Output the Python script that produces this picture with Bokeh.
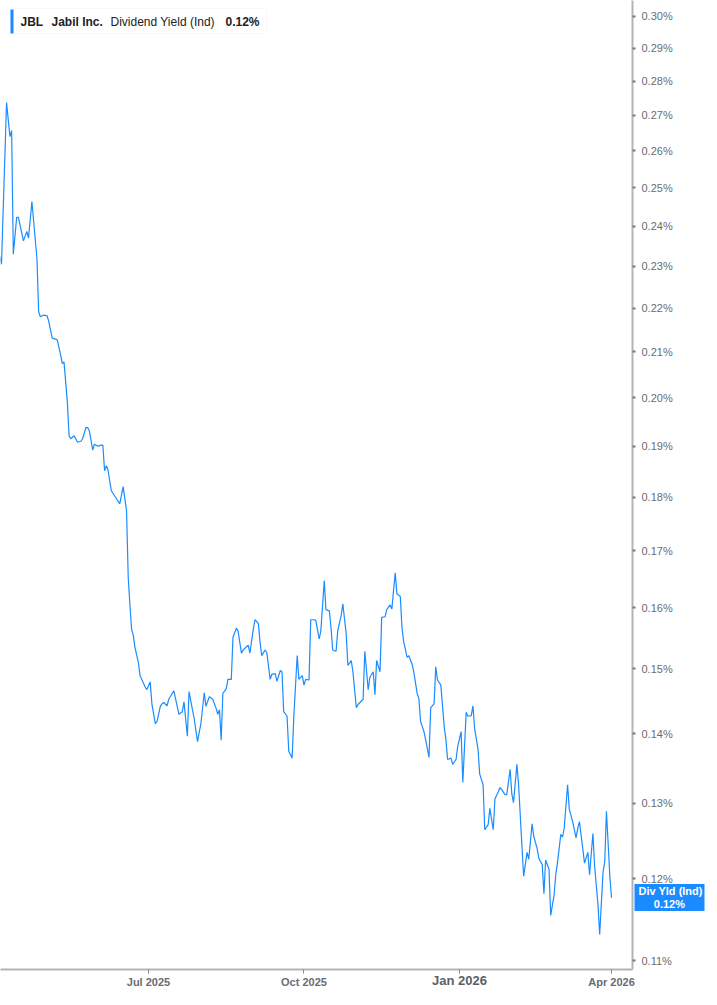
from datetime import datetime
import pandas as pd
from bokeh.plotting import figure
from bokeh.models import (ColumnDataSource, FixedTicker, CustomJSTickFormatter,
                          Range1d, Label, BoxAnnotation, LogAxis, DatetimeAxis)
from bokeh.embed import file_html
from bokeh.resources import INLINE

# ---------------- data ----------------
dates = [
    "2025-04-04", "2025-04-05", "2025-04-08", "2025-04-10", "2025-04-11", "2025-04-12", "2025-04-14", "2025-04-15",
    "2025-04-18", "2025-04-20", "2025-04-21", "2025-04-23", "2025-04-26", "2025-04-27", "2025-04-28", "2025-04-30",
    "2025-05-02", "2025-05-03", "2025-05-05", "2025-05-07", "2025-05-08", "2025-05-10", "2025-05-11", "2025-05-12",
    "2025-05-14", "2025-05-15", "2025-05-16", "2025-05-18", "2025-05-20", "2025-05-22", "2025-05-23", "2025-05-25",
    "2025-05-26", "2025-05-27", "2025-05-29", "2025-05-30",
    "2025-06-01", "2025-06-03", "2025-06-04", "2025-06-05", "2025-06-06", "2025-06-07", "2025-06-09", "2025-06-11",
    "2025-06-14", "2025-06-16", "2025-06-18", "2025-06-19", "2025-06-20", "2025-06-21", "2025-06-22", "2025-06-23",
    "2025-06-25", "2025-06-26", "2025-06-27", "2025-06-29", "2025-06-30",
    "2025-07-02", "2025-07-03", "2025-07-05", "2025-07-06", "2025-07-08", "2025-07-09", "2025-07-10", "2025-07-12",
    "2025-07-13", "2025-07-15", "2025-07-16", "2025-07-18", "2025-07-19", "2025-07-21", "2025-07-22", "2025-07-24",
    "2025-07-25", "2025-07-27", "2025-07-28", "2025-07-30",
    "2025-08-01", "2025-08-03", "2025-08-04", "2025-08-06", "2025-08-08", "2025-08-10", "2025-08-11", "2025-08-12",
    "2025-08-13", "2025-08-14", "2025-08-16", "2025-08-17", "2025-08-19", "2025-08-20", "2025-08-22", "2025-08-23",
    "2025-08-25", "2025-08-26", "2025-08-29", "2025-08-30",
    "2025-09-01", "2025-09-02", "2025-09-04", "2025-09-05", "2025-09-06", "2025-09-08", "2025-09-09", "2025-09-11",
    "2025-09-12", "2025-09-14", "2025-09-15", "2025-09-17", "2025-09-18", "2025-09-19", "2025-09-21", "2025-09-22",
    "2025-09-24", "2025-09-25", "2025-09-27", "2025-09-28", "2025-09-30",
    "2025-10-01", "2025-10-02", "2025-10-04", "2025-10-05", "2025-10-07", "2025-10-08", "2025-10-10", "2025-10-11",
    "2025-10-13", "2025-10-14", "2025-10-16", "2025-10-17", "2025-10-18", "2025-10-20", "2025-10-21", "2025-10-23",
    "2025-10-24", "2025-10-26", "2025-10-27", "2025-10-29", "2025-10-30",
    "2025-11-01", "2025-11-02", "2025-11-05", "2025-11-06", "2025-11-08", "2025-11-09", "2025-11-11", "2025-11-12",
    "2025-11-13", "2025-11-15", "2025-11-16", "2025-11-18", "2025-11-19", "2025-11-21", "2025-11-22", "2025-11-24",
    "2025-11-25", "2025-11-27", "2025-11-28", "2025-11-29",
    "2025-12-01", "2025-12-02", "2025-12-04", "2025-12-05", "2025-12-07", "2025-12-08", "2025-12-09", "2025-12-11",
    "2025-12-12", "2025-12-14", "2025-12-15", "2025-12-17", "2025-12-18", "2025-12-19", "2025-12-21", "2025-12-23",
    "2025-12-24", "2025-12-25", "2025-12-27", "2025-12-28", "2025-12-30", "2025-12-31",
    "2026-01-02", "2026-01-03", "2026-01-05", "2026-01-06", "2026-01-08", "2026-01-09", "2026-01-10", "2026-01-12",
    "2026-01-13", "2026-01-15", "2026-01-16", "2026-01-18", "2026-01-19", "2026-01-21", "2026-01-22", "2026-01-24",
    "2026-01-25", "2026-01-26", "2026-01-28", "2026-01-29", "2026-01-31",
    "2026-02-01", "2026-02-02", "2026-02-04", "2026-02-05", "2026-02-07", "2026-02-08", "2026-02-10", "2026-02-11",
    "2026-02-13", "2026-02-14", "2026-02-16", "2026-02-17", "2026-02-19", "2026-02-20", "2026-02-21", "2026-02-23",
    "2026-02-24", "2026-02-26", "2026-02-27", "2026-02-28",
    "2026-03-02", "2026-03-03", "2026-03-04", "2026-03-06", "2026-03-07", "2026-03-09", "2026-03-11", "2026-03-12",
    "2026-03-13", "2026-03-15", "2026-03-16", "2026-03-18", "2026-03-19", "2026-03-21", "2026-03-22", "2026-03-24",
    "2026-03-25", "2026-03-27", "2026-03-28", "2026-03-29", "2026-03-31", "2026-04-01",
]

dividend_yield = [  # percent
    0.2325, 0.2305, 0.2737, 0.2640, 0.2657, 0.2330, 0.2423, 0.2423,
    0.2363, 0.2387, 0.2370, 0.2464, 0.2318, 0.2191, 0.2180, 0.2184,
    0.2182, 0.2169, 0.2131, 0.2129, 0.2127, 0.2093, 0.2074, 0.2078,
    0.1990, 0.1921, 0.1915, 0.1921, 0.1908, 0.1910, 0.1915, 0.1938,
    0.1938, 0.1931, 0.1892, 0.1904,
    0.1900, 0.1902, 0.1902, 0.1851, 0.1861, 0.1853, 0.1812, 0.1802,
    0.1787, 0.1820, 0.1774, 0.1653, 0.1605, 0.1564, 0.1554, 0.1534,
    0.1510, 0.1489, 0.1483, 0.1471, 0.1467,
    0.1479, 0.1445, 0.1415, 0.1418, 0.1441, 0.1445, 0.1447, 0.1442,
    0.1452, 0.1461, 0.1465, 0.1441, 0.1429, 0.1433, 0.1448, 0.1396,
    0.1464, 0.1436, 0.1423, 0.1388,
    0.1415, 0.1462, 0.1441, 0.1456, 0.1452, 0.1438, 0.1429, 0.1436,
    0.1390, 0.1461, 0.1468, 0.1483, 0.1483, 0.1551, 0.1566, 0.1561,
    0.1525, 0.1530, 0.1538, 0.1525,
    0.1564, 0.1580, 0.1574, 0.1543, 0.1521, 0.1530, 0.1526, 0.1483,
    0.1491, 0.1492, 0.1480, 0.1497, 0.1495, 0.1433, 0.1426, 0.1374,
    0.1364, 0.1426, 0.1521, 0.1483, 0.1489,
    0.1474, 0.1483, 0.1482, 0.1580, 0.1580, 0.1579, 0.1548, 0.1562,
    0.1647, 0.1597, 0.1595, 0.1567, 0.1530, 0.1528, 0.1562, 0.1587,
    0.1607, 0.1556, 0.1505, 0.1513, 0.1494,
    0.1439, 0.1444, 0.1452, 0.1528, 0.1467, 0.1486, 0.1495, 0.1459,
    0.1513, 0.1495, 0.1584, 0.1585, 0.1597, 0.1605, 0.1598, 0.1661,
    0.1624, 0.1620, 0.1567, 0.1544,
    0.1518, 0.1521, 0.1507, 0.1494, 0.1461, 0.1453, 0.1418, 0.1403,
    0.1391, 0.1365, 0.1439, 0.1445, 0.1503, 0.1482, 0.1474, 0.1410,
    0.1391, 0.1362, 0.1364, 0.1355, 0.1362, 0.1381,
    0.1403, 0.1329, 0.1432, 0.1426, 0.1427, 0.1442, 0.1407, 0.1377,
    0.1341, 0.1326, 0.1264, 0.1271, 0.1293, 0.1264, 0.1306, 0.1316,
    0.1322, 0.1319, 0.1312, 0.1312, 0.1348,
    0.1313, 0.1301, 0.1355, 0.1326, 0.1242, 0.1203, 0.1234, 0.1225,
    0.1272, 0.1255, 0.1239, 0.1226, 0.1218, 0.1181, 0.1224, 0.1212,
    0.1154, 0.1179, 0.1205, 0.1220,
    0.1258, 0.1254, 0.1266, 0.1326, 0.1292, 0.1275, 0.1253, 0.1266,
    0.1275, 0.1239, 0.1220, 0.1234, 0.1205, 0.1259, 0.1216, 0.1167,
    0.1131, 0.1209, 0.1222, 0.1289, 0.1203, 0.1176,
]

y_ticks = [0.11, 0.12, 0.13, 0.14, 0.15, 0.16, 0.17, 0.18, 0.19, 0.20,
           0.21, 0.22, 0.23, 0.24, 0.25, 0.26, 0.27, 0.28, 0.29, 0.30]
x_tick_dates = ["2025-07-01", "2025-10-01", "2026-01-01", "2026-04-01"]
x_tick_labels = ["Jul 2025", "Oct 2025", "Jan 2026", "Apr 2026"]
bold_tick_label = "Jan 2026"

symbol = "JBL"
company = "Jabil Inc."
metric = "Dividend Yield (Ind)"
last_value_text = "0.12%"
badge_lines = ["Div Yld (Ind)", "0.12%"]

# ---------------- styling ----------------
BLUE = "#1a8cff"
AXIS_GREY = "#b4b4b4"
LABEL_GREY = "#696c72"
FONT = "Liberation Sans"

FW, FH = 632, 969
X_START, X_END = datetime(2025, 4, 4, 10), datetime(2026, 4, 13, 10)
Y_MIN, Y_MAX = 0.10896, 0.30507

def ms(d):
    return pd.Timestamp(d).value / 1e6

src = ColumnDataSource(dict(date=pd.to_datetime(dates), value=dividend_yield))

p = figure(frame_width=FW, frame_height=FH,
           x_axis_type="datetime", y_axis_type="log", y_axis_location="right",
           x_range=Range1d(X_START, X_END), y_range=Range1d(Y_MIN, Y_MAX),
           output_backend="svg", toolbar_location=None,
           min_border_left=0, min_border_top=0, min_border_right=69, min_border_bottom=20)

p.outline_line_color = None
p.xgrid.grid_line_color = None
p.ygrid.grid_line_color = None
p.background_fill_color = "white"
p.border_fill_color = "white"

p.line("date", "value", source=src, line_color=BLUE, line_width=1.2)

# ---- main x axis (Jan label drawn by a second, bold axis) ----
xa = p.xaxis[0]
tick_ms = [ms(d) for d in x_tick_dates]
xa.ticker = FixedTicker(ticks=tick_ms)
shown = ["" if t == bold_tick_label else t for t in x_tick_labels]
xa.formatter = CustomJSTickFormatter(args=dict(tvals=tick_ms, tlabels=shown), code="""
    let best = 0;
    for (let k = 0; k < tvals.length; k++) {
        if (Math.abs(tvals[k] - tick) < Math.abs(tvals[best] - tick)) best = k;
    }
    return tlabels[best];
""")
xa.major_tick_in = 0
xa.major_tick_out = 4
xa.major_tick_line_color = "#8a8a8a"
xa.major_label_standoff = 2
xa.major_label_text_font_style = "bold"

# ---- main y axis ----
ya = p.yaxis[0]
ya.ticker = FixedTicker(ticks=y_ticks)
ya.formatter = CustomJSTickFormatter(code="return tick.toFixed(2) + '%';")
ya.major_tick_in = 0
ya.major_tick_out = 3
ya.major_tick_line_width = 2
ya.major_tick_line_color = "#7a7a7a"
ya.major_label_standoff = 6

for ax in (xa, ya):
    ax.axis_line_color = AXIS_GREY
    ax.axis_line_width = 2
    ax.minor_tick_line_color = None
    ax.major_label_text_font = FONT
    ax.major_label_text_font_size = "11px"
    ax.major_label_text_color = LABEL_GREY

# ---- second x axis: only the bold "Jan 2026" label, pulled up into the label row ----
jan_ms = ms(x_tick_dates[x_tick_labels.index(bold_tick_label)])
xb = DatetimeAxis(ticker=FixedTicker(ticks=[jan_ms]),
                  formatter=CustomJSTickFormatter(args=dict(lbl=bold_tick_label), code="return lbl;"),
                  axis_line_color=None, major_tick_line_color=None, minor_tick_line_color=None,
                  major_tick_in=0, major_tick_out=0, major_label_standoff=-18,
                  major_label_text_font=FONT, major_label_text_font_size="13px",
                  major_label_text_font_style="bold", major_label_text_color="#5c5f66")
p.add_layout(xb, "below")

# ---- second y axis: last-value badge (thick blue tick as the box, label pulled back over it) ----
badge_text = badge_lines[0] + "\n" + "\u00a0" * 5 + badge_lines[1]
yb = LogAxis(ticker=FixedTicker(ticks=[dividend_yield[-1]]),
             formatter=CustomJSTickFormatter(args=dict(lbl=badge_text), code="return lbl;"),
             axis_line_color=None, minor_tick_line_color=None,
             major_tick_line_color=BLUE, major_tick_line_width=27, major_tick_line_cap="butt",
             major_tick_in=41, major_tick_out=29, major_label_standoff=-66,
             major_label_text_font=FONT, major_label_text_font_size="11px",
             major_label_text_font_style="bold", major_label_text_color="white",
             major_label_text_line_height=1.1)
p.add_layout(yb, "right")

# ---- legend box at top-left ----
p.add_layout(BoxAnnotation(left=10, right=266, top=FH - 8, bottom=FH - 33,
                           left_units="screen", right_units="screen",
                           top_units="screen", bottom_units="screen",
                           fill_color="white", fill_alpha=1.0,
                           line_color="#e3e3e3", line_width=1, border_radius=3))
p.add_layout(BoxAnnotation(left=10, right=13, top=FH - 9, bottom=FH - 33,
                           left_units="screen", right_units="screen",
                           top_units="screen", bottom_units="screen",
                           fill_color=BLUE, fill_alpha=1.0, line_color=None))

legend_parts = [(symbol, 20, "bold"), (company, 51, "bold"),
                (metric, 110, "normal"), (last_value_text, 225, "bold")]
for txt, lx, style in legend_parts:
    p.add_layout(Label(x=lx, y=FH - 21, x_units="screen", y_units="screen", text=txt,
                       text_align="left", text_baseline="middle",
                       text_font=FONT, text_font_size="12px", text_font_style=style,
                       text_color="#222222"))

open("out.html", "w").write(file_html(p, INLINE))
